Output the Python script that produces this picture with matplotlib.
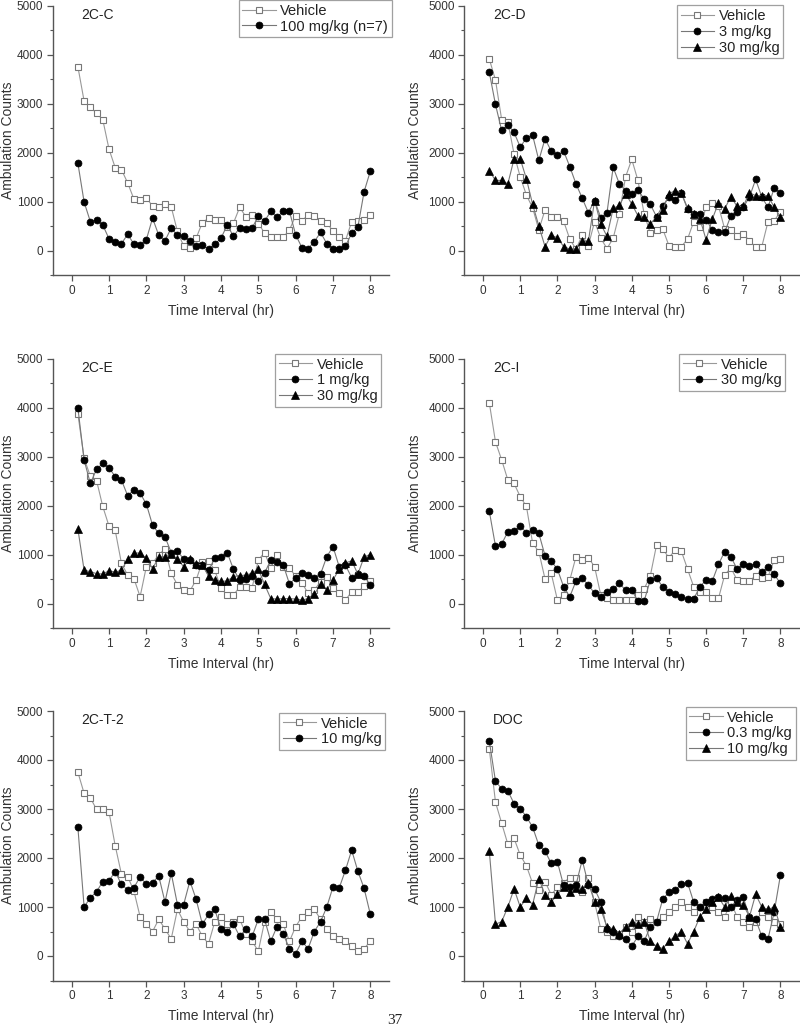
import numpy as np
import matplotlib
matplotlib.use("Agg")
import matplotlib.pyplot as plt
from matplotlib.ticker import MultipleLocator

plt.rcParams['font.family'] = ['Liberation Sans', 'DejaVu Sans']

time_hr = np.arange(1, 49) / 6.0

cc_vehicle = [3750, 3050, 2930, 2800, 2670, 2070, 1690, 1650, 1380, 1050,
              1030, 1070, 910, 880, 950, 890, 390, 90, 60, 250,
              570, 660, 630, 630, 470, 560, 880, 690, 730, 550,
              360, 270, 270, 270, 420, 710, 610, 720, 710, 600,
              560, 400, 280, 200, 590, 610, 620, 720]
cc_100 = [1780, 990, 590, 620, 520, 240, 180, 140, 330, 130,
          120, 220, 660, 310, 200, 460, 310, 290, 200, 90,
          110, 30, 130, 250, 520, 290, 460, 440, 460, 700,
          600, 800, 680, 800, 800, 320, 60, 40, 180, 370,
          140, 40, 40, 90, 350, 480, 1200, 1620]

cd_vehicle = [3910, 3480, 2670, 2620, 1970, 1500, 1130, 870, 420, 830,
              690, 690, 600, 230, 30, 310, 100, 590, 250, 40,
              250, 750, 1500, 1860, 1430, 750, 350, 420, 440, 100,
              70, 80, 230, 590, 480, 880, 970, 910, 440, 410,
              300, 340, 200, 70, 80, 590, 610, 790]
cd_3 = [3640, 2980, 2450, 2570, 2410, 2110, 2300, 2350, 1840, 2280,
        2030, 1940, 2030, 1710, 1360, 1070, 770, 1020, 670, 770,
        1700, 1360, 1220, 1160, 1240, 1050, 940, 690, 910, 1090,
        1030, 1170, 850, 750, 750, 630, 420, 370, 370, 710,
        780, 880, 1090, 1450, 1090, 880, 1280, 1180]
cd_30 = [1630, 1430, 1430, 1360, 1870, 1870, 1460, 940, 500, 80,
         310, 260, 80, 30, 30, 190, 190, 1020, 540, 290,
         860, 920, 1160, 950, 710, 690, 540, 690, 820, 1160,
         1220, 1180, 870, 750, 650, 220, 640, 970, 850, 1100,
         900, 900, 1180, 1120, 1120, 1120, 880, 690]

ce_vehicle = [3870, 2960, 2600, 2510, 1980, 1580, 1490, 820, 580, 510,
              140, 750, 820, 1000, 1110, 615, 380, 275, 255, 480,
              850, 870, 680, 310, 170, 170, 340, 340, 320, 890,
              1040, 720, 1000, 750, 720, 560, 420, 210, 275, 445,
              550, 310, 210, 70, 240, 240, 350, 450]
ce_1 = [3990, 2930, 2450, 2740, 2860, 2770, 2590, 2520, 2200, 2320,
        2250, 2030, 1600, 1430, 1360, 1040, 1080, 900, 880, 790,
        780, 680, 920, 950, 1040, 700, 480, 510, 570, 460,
        620, 890, 840, 790, 400, 520, 620, 580, 530, 600,
        955, 1160, 750, 780, 530, 600, 560, 380]
ce_30 = [1520, 680, 650, 610, 600, 670, 640, 680, 900, 1030,
         1030, 920, 710, 950, 950, 1010, 910, 750, 910, 810,
         780, 560, 480, 450, 460, 550, 570, 580, 620, 700,
         390, 100, 90, 100, 100, 90, 70, 100, 190, 390,
         275, 480, 700, 830, 870, 600, 950, 1000]

ci_vehicle = [4100, 3300, 2930, 2520, 2450, 2180, 1980, 1230, 1057, 500,
              615, 71, 173, 479, 955, 887, 935, 751, 173, 119,
              71, 71, 71, 71, 173, 296, 568, 1193, 1112, 935,
              1091, 1071, 704, 343, 228, 241, 105, 105, 581, 731,
              479, 459, 459, 568, 527, 547, 887, 908]
ci_30 = [1887, 1173, 1214, 1465, 1479, 1581, 1445, 1499, 1431, 976,
         867, 700, 343, 139, 459, 513, 377, 207, 139, 241,
         296, 411, 275, 275, 51, 51, 479, 513, 343, 241,
         187, 139, 92, 92, 343, 479, 459, 799, 1057, 955,
         704, 799, 771, 806, 636, 751, 595, 411]

ct_vehicle = [3750, 3320, 3230, 2990, 2990, 2940, 2250, 1670, 1620, 1330,
              800, 650, 500, 750, 550, 350, 950, 700, 500, 650,
              400, 250, 700, 800, 650, 700, 750, 450, 300, 100,
              700, 900, 750, 650, 300, 600, 800, 900, 950, 750,
              550, 400, 350, 300, 200, 100, 150, 300]
ct_10 = [2625, 1000, 1190, 1310, 1520, 1540, 1720, 1460, 1350, 1390,
         1620, 1460, 1500, 1630, 1100, 1690, 1050, 1050, 1530, 1160,
         650, 850, 950, 550, 500, 650, 400, 550, 400, 750,
         750, 300, 600, 450, 150, 50, 300, 150, 500, 700,
         1000, 1410, 1390, 1750, 2160, 1730, 1380, 850]

doc_vehicle = [4230, 3140, 2710, 2280, 2400, 2060, 1840, 1480, 1350, 1520,
               1250, 1400, 1500, 1600, 1600, 1300, 1600, 1100, 550, 500,
               400, 450, 600, 500, 800, 700, 750, 700, 800, 900,
               1000, 1100, 1000, 900, 1000, 1100, 1000, 900, 800, 1100,
               800, 700, 600, 700, 900, 800, 700, 650]
doc_03 = [4390, 3570, 3410, 3370, 3110, 3010, 2840, 2630, 2260, 2140,
          1890, 1920, 1440, 1410, 1450, 1960, 1450, 1370, 1100, 550,
          500, 400, 350, 200, 400, 300, 600, 700, 1160, 1300,
          1350, 1460, 1500, 1100, 1000, 1100, 1160, 1210, 1180, 1000,
          1150, 1200, 800, 750, 400, 350, 900, 1650]
doc_10 = [2150, 650, 700, 1000, 1370, 1000, 1180, 1050, 1580, 1250,
          1100, 1260, 1400, 1300, 1380, 1370, 1500, 1100, 950, 600,
          550, 450, 600, 700, 650, 700, 300, 200, 150, 300,
          400, 500, 250, 500, 800, 950, 1100, 1200, 1000, 1230,
          1100, 1050, 800, 1260, 1000, 950, 1000, 600]

panels = [
    ("2C-C", [("Vehicle", cc_vehicle, "s"), ("100 mg/kg (n=7)", cc_100, "o")]),
    ("2C-D", [("Vehicle", cd_vehicle, "s"), ("3 mg/kg", cd_3, "o"), ("30 mg/kg", cd_30, "^")]),
    ("2C-E", [("Vehicle", ce_vehicle, "s"), ("1 mg/kg", ce_1, "o"), ("30 mg/kg", ce_30, "^")]),
    ("2C-I", [("Vehicle", ci_vehicle, "s"), ("30 mg/kg", ci_30, "o")]),
    ("2C-T-2", [("Vehicle", ct_vehicle, "s"), ("10 mg/kg", ct_10, "o")]),
    ("DOC", [("Vehicle", doc_vehicle, "s"), ("0.3 mg/kg", doc_03, "o"), ("10 mg/kg", doc_10, "^")]),
]

W, H = 800, 1029
fig = plt.figure(figsize=(W / 100, H / 100), dpi=100)

col_x = [(53, 389), (464.5, 799)]
row_y = [(5.5, 275), (358.5, 628), (711, 980.5)]
ylabel_px = [15, 422]
legend_anchor = [(1.008, 1.02), (0.952, 1.0), (0.976, 1.017),
                 (0.958, 1.017), (0.988, 0.993), (0.99, 1.015)]

spine_col = "#555555"
text_col = "#333333"

for k, (title, series) in enumerate(panels):
    r, c = divmod(k, 2)
    x0, x1 = col_x[c]
    y0, y1 = row_y[r]
    ax = fig.add_axes([x0 / W, 1 - y1 / H, (x1 - x0) / W, (y1 - y0) / H])
    for label, vals, m in series:
        if m == "s":
            ax.plot(time_hr, vals, marker="s", ms=4.2, mfc="white", mec="#777777",
                    mew=0.8, color="#999999", lw=0.8, label=label)
        else:
            ax.plot(time_hr, vals, marker=m, ms=5 if m == "o" else 5.2, mfc="black",
                    mec="black", mew=0.5, color="#777777", lw=0.8, label=label)
    ax.set_xlim(-0.5, 8.5)
    ax.set_ylim(-500, 5000)
    ax.set_xticks(range(0, 9))
    ax.set_yticks(range(0, 5001, 1000))
    ax.yaxis.set_minor_locator(MultipleLocator(500))
    for s in ("top", "right"):
        ax.spines[s].set_visible(False)
    for s in ("left", "bottom"):
        ax.spines[s].set_color(spine_col)
        ax.spines[s].set_linewidth(1.0)
    ax.tick_params(axis="both", which="major", direction="out", length=4,
                   width=0.9, color=spine_col, labelsize=8.5, labelcolor=text_col, pad=3)
    ax.tick_params(axis="y", which="minor", direction="out", length=2.5,
                   width=0.8, color=spine_col)
    ax.set_xlabel("Time Interval (hr)", fontsize=10, color=text_col, labelpad=5)
    ax.set_ylabel("Ambulation Counts", fontsize=10, color=text_col)
    ax.yaxis.set_label_coords((ylabel_px[c] - x0) / (x1 - x0), 0.5)
    ax.text(0.085, 0.965, title, transform=ax.transAxes, ha="left", va="center",
            fontsize=10, color="#222222")
    leg = ax.legend(loc="upper right", bbox_to_anchor=legend_anchor[k],
                    borderaxespad=0, frameon=True, fancybox=False,
                    fontsize=10.5, handlelength=2.3, handletextpad=0.3,
                    labelspacing=0.12, borderpad=0.25)
    leg.get_frame().set_edgecolor("#888888")
    leg.get_frame().set_linewidth(0.9)
    for t in leg.get_texts():
        t.set_color("#222222")

fig.text(395 / W, 1 - 1020 / H, "37", ha="center", va="center",
         fontsize=11, family="Liberation Serif", color="#222222")

fig.savefig("out.png", dpi=100)
